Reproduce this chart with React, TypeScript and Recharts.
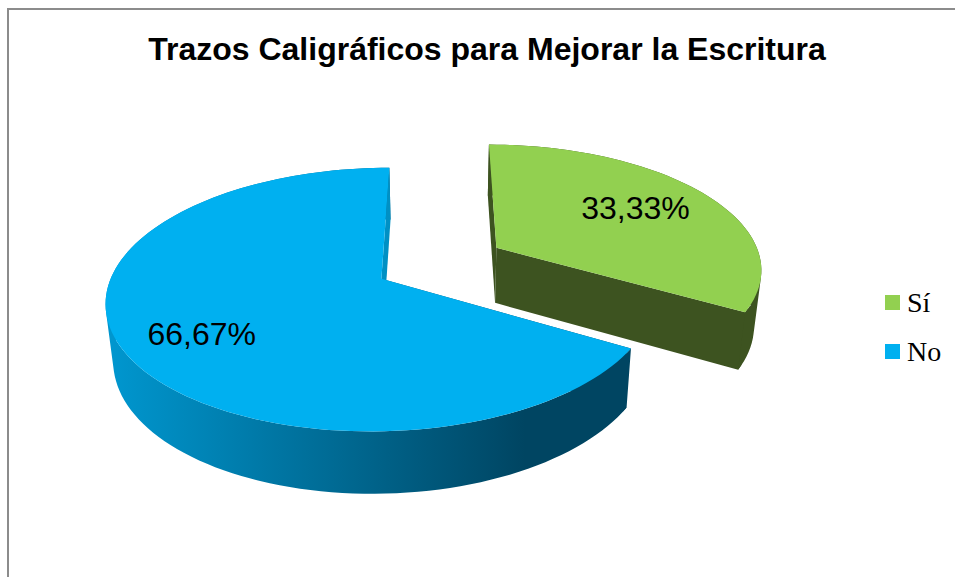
import { PieChart, Pie, Legend } from "recharts";

const CATEGORIES = ["Sí", "No"];
const VALUES = [33.33, 66.67];
const COLORS = ["#92d050", "#00b0f0"];
const WALL_COLORS = ["#3d5320", "url(#noWall)"];
const CUT_COLORS = ["#3d5320", "#0090c4"];

const TITLE = "Trazos Caligráficos para Mejorar la Escritura";

// fake 3D: the pie circle is seen through a simple perspective
const SQUASH = 0.4655;
const PERSPECTIVE = 0.155;
const EXPLODE = 0.25;
const TAPER = 0.977;
const RAD = Math.PI / 180;

// where each percentage sits on its slice (radius fraction, angle nudge)
const LABEL_RADIUS = [0.66, 0.735];
const LABEL_NUDGE = [0, 4.5];

const chartData = CATEGORIES.map((name, i) => ({
  name,
  value: VALUES[i],
  fill: COLORS[i],
}));

type Pt = { x: number; y: number; s: number };

const project = (cx: number, cy: number, r: number, wx: number, wy: number): Pt => {
  const s = 1 / (1 + PERSPECTIVE * wy);
  return { x: cx + r * wx * s, y: cy - r * SQUASH * wy * s, s };
};

// same point on the lower rim
const drop = (cx: number, p: Pt): Pt => ({
  x: cx + (p.x - cx) * TAPER,
  y: p.y + 23.6 + 32 * p.s,
  s: p.s,
});

const toPath = (pts: Pt[]) =>
  "M" + pts.map((p) => `${p.x.toFixed(2)},${p.y.toFixed(2)}`).join("L") + "Z";

// the wall folds over at the silhouette, so every quad gets the same winding
const wallPath = (top: Pt[], low: Pt[]) => {
  let d = "";
  for (let i = 0; i < top.length - 1; i++) {
    const quad = [top[i], top[i + 1], low[i + 1], low[i]];
    let area = 0;
    quad.forEach((p, j) => {
      const q = quad[(j + 1) % 4];
      area += p.x * q.y - q.x * p.y;
    });
    d += toPath(area < 0 ? [...quad].reverse() : quad);
  }
  return d;
};

// eslint-disable-next-line @typescript-eslint/no-explicit-any
const Slice3D = (props: any) => {
  const { cx, cy, outerRadius, startAngle, endAngle, midAngle, fill, index } = props;
  const mid = (midAngle ?? (startAngle + endAngle) / 2) * RAD;
  const ox = EXPLODE * Math.cos(mid);
  const oy = EXPLODE * Math.sin(mid);
  const at = (wx: number, wy: number) => project(cx, cy, outerRadius, wx, wy);

  const rim: Pt[] = [];
  const steps = Math.ceil(Math.abs(endAngle - startAngle) / 2);
  for (let i = 0; i <= steps; i++) {
    const a = (startAngle + ((endAngle - startAngle) * i) / steps) * RAD;
    rim.push(at(ox + Math.cos(a), oy + Math.sin(a)));
  }
  const apex = at(ox, oy);
  const n = rim.length - 1;
  // the cut nearer the viewer goes under the round wall, the far one over it
  const frontFirst = rim[0].y > rim[n].y;
  const front = frontFirst ? rim[0] : rim[n];
  const back = frontFirst ? rim[n] : rim[0];
  // one rim step further, so no seam shows where the cut meets the wall
  const lap = frontFirst ? rim[1] : rim[n - 1];
  const rimLow = rim.map((p) => drop(cx, p));
  const wall = WALL_COLORS[index];

  return (
    <g>
      <path
        d={toPath([apex, front, lap, drop(cx, lap), drop(cx, front), drop(cx, apex)])}
        fill={wall}
      />
      <path d={wallPath(rim, rimLow)} fill={wall} />
      <path d={toPath([apex, back, drop(cx, back), drop(cx, apex)])} fill={CUT_COLORS[index]} />
      <path d={toPath([apex, ...rim])} fill={fill} />
    </g>
  );
};

// eslint-disable-next-line @typescript-eslint/no-explicit-any
const PercentLabel = (props: any) => {
  const { cx, cy, outerRadius, midAngle, index, value } = props;
  const mid = midAngle * RAD;
  const a = (midAngle + LABEL_NUDGE[index]) * RAD;
  const r = LABEL_RADIUS[index];
  const p = project(
    cx,
    cy,
    outerRadius,
    EXPLODE * Math.cos(mid) + r * Math.cos(a),
    EXPLODE * Math.sin(mid) + r * Math.sin(a),
  );
  return (
    <text
      x={p.x}
      y={p.y}
      dy={-2}
      textAnchor="middle"
      dominantBaseline="central"
      fontFamily="'Liberation Sans', sans-serif"
      fontSize={32}
      fill="#000"
    >
      {Number(value).toFixed(2).replace(".", ",")}%
    </text>
  );
};

// eslint-disable-next-line @typescript-eslint/no-explicit-any
const LegendList = ({ payload }: any) => (
  <div>
    {payload.map((entry: any) => (
      <div
        key={entry.value}
        style={{
          display: "flex",
          alignItems: "center",
          height: 49,
          fontFamily: "'Liberation Serif', serif",
          fontSize: 28,
          color: "#000",
        }}
      >
        <span style={{ width: 15, height: 15, background: entry.color, marginRight: 7 }} />
        {entry.value}
      </div>
    ))}
  </div>
);

export default function App() {
  return (
    <div
      style={{
        position: "absolute",
        left: 0,
        top: 0,
        width: 955,
        height: 577,
        overflow: "hidden",
        background: "#fff",
      }}
    >
      <PieChart width={955} height={577} margin={{ top: 0, right: 0, bottom: 0, left: 0 }}>
        <defs>
          <linearGradient id="noWall" gradientUnits="userSpaceOnUse" x1={113} y1={0} x2={525} y2={0}>
            <stop offset="0%" stopColor="#0096ce" />
            <stop offset="100%" stopColor="#004562" />
          </linearGradient>
        </defs>
        <rect x={8} y={9} width={1000} height={1000} fill="none" stroke="#8c8c8c" strokeWidth={2} />
        <text
          x={487}
          y={60}
          textAnchor="middle"
          fontFamily="'Liberation Sans', sans-serif"
          fontWeight="bold"
          fontSize={32}
          fill="#000"
        >
          {TITLE}
        </text>
        <Pie
          data={chartData}
          dataKey="value"
          nameKey="name"
          cx={440}
          cy={263}
          outerRadius={265.5}
          startAngle={90}
          endAngle={-270}
          stroke="none"
          shape={Slice3D}
          label={PercentLabel}
          labelLine={false}
          isAnimationActive={false}
        />
        <Legend
          layout="vertical"
          content={LegendList}
          itemSorter={null}
          wrapperStyle={{ left: 885, top: 278, width: 70 }}
        />
      </PieChart>
    </div>
  );
}
